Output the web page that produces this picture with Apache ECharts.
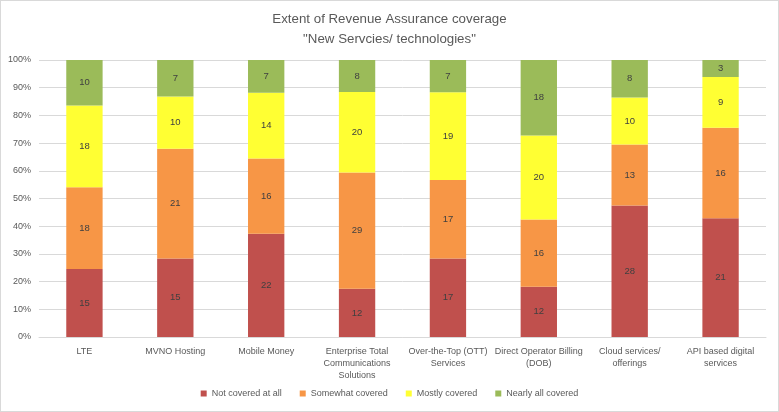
<!DOCTYPE html>
<html><head><meta charset="utf-8">
<script src="https://cdn.jsdelivr.net/npm/echarts@6/dist/echarts.min.js"></script>
<style>
html,body{margin:0;padding:0;background:#fff;}
#c{width:779px;height:412px;box-sizing:border-box;border:1px solid #d9d9d9;}
</style></head>
<body><div id="c"></div>
<script>
const categories = ["LTE","MVNO Hosting","Mobile Money","Enterprise Total\nCommunications\nSolutions","Over-the-Top (OTT)\nServices","Direct Operator Billing\n(DOB)","Cloud services/\nofferings","API based digital\nservices"];
const seriesNames = ["Not covered at all","Somewhat covered","Mostly covered","Nearly all covered"];
const notCovered = [15,15,22,12,17,12,28,21];
const somewhat = [18,21,16,29,17,16,13,16];
const mostly = [18,10,14,20,19,20,10,9];
const nearlyAll = [10,7,7,8,7,18,8,3];
const colors = ["#C0504D","#F79646","#FFFF33","#9BBB59"];

const raw = [notCovered, somewhat, mostly, nearlyAll];
const totals = categories.map((_, i) => raw.reduce((s, a) => s + a[i], 0));
const font = "'Liberation Sans', Arial, sans-serif";

const chart = echarts.init(document.getElementById('c'), null, {renderer:'canvas'});
chart.setOption({
  animation:false,
  title:{text:'Extent of Revenue Assurance coverage\n"New Servcies/ technologies"', left:'center', top:3,
    textStyle:{fontFamily:font, fontSize:13.3, fontWeight:'normal', color:'#595959', lineHeight:20}},
  legend:{bottom:8, left:'center', itemWidth:6, itemHeight:6, itemGap:18, icon:'rect',
    textStyle:{fontFamily:font, fontSize:9, color:'#595959'}, data:seriesNames},
  grid:{left:38, right:12, top:59, bottom:74},
  xAxis:{type:'category', data:categories,
    axisLine:{lineStyle:{color:'#d9d9d9'}}, axisTick:{show:false},
    axisLabel:{fontFamily:font, fontSize:9, color:'#595959', lineHeight:12, margin:9, interval:0}},
  yAxis:{type:'value', min:0, max:100, interval:10,
    axisLabel:{formatter:'{value}%', fontFamily:font, fontSize:9, color:'#595959', margin:8},
    axisLine:{show:false}, axisTick:{show:false},
    splitLine:{lineStyle:{color:'#d9d9d9', width:1}}},
  series: raw.map((arr, k) => ({
    name:seriesNames[k], type:'bar', stack:'total', barWidth:'40%',
    itemStyle:{color:colors[k]},
    label:{show:true, position:'inside', fontFamily:font, fontSize:9.5, color:'#404040',
      formatter:p => arr[p.dataIndex]},
    data: arr.map((v, i) => v / totals[i] * 100)
  }))
});
</script></body></html>
